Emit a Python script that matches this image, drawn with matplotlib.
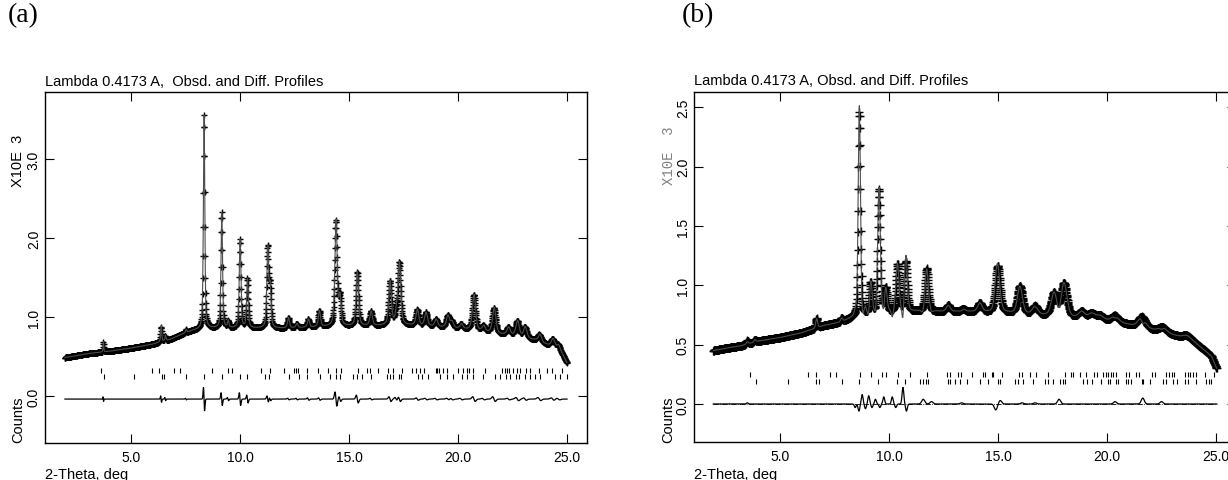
import numpy as np
import matplotlib
matplotlib.use("Agg")
import matplotlib.pyplot as plt
from matplotlib.ticker import FormatStrFormatter

plt.rcParams['font.family'] = ['Liberation Sans', 'DejaVu Sans']

TITLE = "Lambda 0.4173 A,  Obsd. and Diff. Profiles"
TITLE_B = "Lambda 0.4173 A, Obsd. and Diff. Profiles"

# ---- panel (a) -------------------------------------------------------
a_range = (1.97, 25.0)
a_bg_x = [1.97, 3.0, 4.0, 5.0, 6.0, 6.8, 7.3, 7.8, 8.5, 10.0, 12.0, 14.0,
          16.0, 17.5, 19.0, 20.5, 21.5, 22.5, 23.5, 24.0, 24.5, 24.8, 25.0]
a_bg_y = [0.49, 0.54, 0.57, 0.61, 0.66, 0.72, 0.78, 0.83, 0.86, 0.86, 0.86,
          0.88, 0.89, 0.90, 0.88, 0.84, 0.80, 0.76, 0.71, 0.66, 0.59, 0.52,
          0.42]
a_peak_pos = [3.73, 6.38, 6.57, 7.52, 8.35, 9.16, 9.45, 10.0, 10.34, 11.27,
              11.38, 12.22, 12.6, 13.13, 13.64, 14.40, 14.58, 15.38, 16.01,
              16.88, 17.16, 17.31, 18.13, 18.53, 18.99, 19.53, 19.71, 20.14,
              20.73, 21.16, 21.65, 22.31, 22.72, 23.07, 23.73, 24.34, 24.60]
a_peak_amp = [0.12, 0.19, 0.06, 0.04, 2.70, 1.46, 0.08, 1.12, 0.62, 1.00,
              0.50, 0.13, 0.05, 0.10, 0.20, 1.33, 0.36, 0.68, 0.18, 0.55,
              0.12, 0.78, 0.20, 0.17, 0.09, 0.15, 0.08, 0.06, 0.45, 0.07,
              0.32, 0.10, 0.20, 0.14, 0.09, 0.11, 0.08]
a_diff_amp = [0.03, 0.04, 0.02, 0.01, 0.15, 0.08, 0.02, 0.08, 0.05, 0.04,
              0.02, 0.01, 0.01, 0.015, 0.015, 0.09, 0.03, 0.05, 0.01, 0.03,
              0.02, 0.03, 0.015, 0.01, 0.01, 0.01, 0.01, 0.01, 0.03, 0.01,
              0.03, 0.01, 0.02, 0.015, 0.02, 0.015, 0.01]
a_refl_1 = [3.62, 5.98, 6.28, 6.97, 7.25, 8.70, 9.43, 9.65, 10.96, 11.38,
            12.03, 12.49, 12.57, 12.64, 13.09, 13.59, 14.05, 14.40, 14.62,
            15.43, 15.81, 15.96, 16.35, 16.80, 17.03, 17.42, 17.87, 18.07,
            18.26, 18.44, 18.99, 19.05, 19.14, 19.30, 19.51, 20.02, 20.24,
            20.40, 20.52, 20.67, 21.24, 22.00, 22.16, 22.23, 22.35, 22.54,
            22.69, 22.84, 23.12, 23.30, 23.73, 24.07, 24.30, 24.75]
a_refl_2 = [3.76, 5.15, 6.42, 6.53, 7.52, 8.35, 9.16, 10.00, 10.31, 11.15,
            11.35, 12.26, 12.72, 13.09, 13.67, 14.13, 14.40, 14.59, 15.17,
            15.35, 15.58, 15.99, 16.73, 16.88, 17.03, 17.29, 17.39, 18.18,
            18.33, 18.64, 19.17, 19.51, 19.79, 20.17, 20.40, 20.70, 21.16,
            21.70, 21.93, 22.20, 22.39, 22.66, 22.81, 23.07, 23.30, 23.53,
            23.76, 24.45, 24.68, 24.99]
a_diff_zero = -0.035

# ---- panel (b) -------------------------------------------------------
b_range = (1.94, 25.03)
b_bg_x = [1.94, 2.5, 3.2, 4.0, 5.0, 6.0, 6.5, 7.0, 7.8, 8.4, 9.0, 10.0,
          11.0, 12.0, 13.0, 14.0, 15.5, 17.0, 18.5, 19.5, 20.5, 21.5, 22.5,
          23.5, 24.0, 24.5, 24.8, 25.03]
b_bg_y = [0.45, 0.47, 0.49, 0.53, 0.56, 0.60, 0.63, 0.66, 0.69, 0.73, 0.75,
          0.77, 0.78, 0.78, 0.78, 0.78, 0.77, 0.75, 0.73, 0.72, 0.69, 0.65,
          0.61, 0.56, 0.52, 0.45, 0.40, 0.30]
b_peak_pos = [3.50, 3.85, 6.68, 7.83, 8.64, 9.16, 9.54, 9.85, 10.39, 10.77,
              11.73, 12.72, 13.40, 14.17, 14.99, 16.01, 16.70, 17.57, 18.03,
              18.84, 19.30, 19.68, 20.37, 21.60, 22.55, 23.69]
b_peak_amp = [0.03, 0.02, 0.08, 0.03, 1.72, 0.26, 1.04, 0.20, 0.40, 0.42,
              0.36, 0.05, 0.02, 0.07, 0.39, 0.23, 0.07, 0.19, 0.28, 0.05,
              0.04, 0.03, 0.05, 0.09, 0.04, 0.03]
b_diff_pos = [3.50, 8.45, 8.62, 8.77, 8.92, 9.07, 9.22, 9.38, 9.58, 9.76,
              10.15, 10.31, 10.64, 10.80, 11.57, 11.95, 13.33, 14.90, 15.10,
              16.10, 16.70, 17.80, 20.37, 21.64, 22.50]
b_diff_amp = [0.01, -0.03, -0.06, 0.08, -0.04, 0.07, -0.03, 0.04, -0.03,
              0.06, 0.06, -0.03, 0.14, -0.06, 0.04, 0.02, 0.01, -0.05, 0.03,
              0.01, 0.01, 0.04, 0.02, 0.05, 0.02]
b_refl_1 = [3.62, 6.30, 6.65, 7.29, 7.57, 8.67, 9.16, 9.70, 9.85, 10.43,
            10.96, 11.73, 12.65, 12.80, 13.18, 13.30, 13.79, 14.30, 14.40,
            14.71, 14.79, 15.17, 15.96, 16.09, 16.47, 16.74, 17.28, 18.07,
            18.34, 18.43, 18.76, 19.04, 19.40, 19.56, 19.83, 19.95, 20.06,
            20.17, 20.29, 20.40, 20.87, 21.03, 21.33, 21.48, 22.05, 22.20,
            22.71, 22.86, 22.97, 23.09, 23.58, 23.70, 23.81, 23.96, 24.08,
            24.50, 24.91]
b_refl_2 = [3.90, 5.38, 6.65, 6.77, 7.83, 8.64, 9.51, 10.35, 10.73, 11.42,
            11.55, 11.70, 11.80, 12.72, 12.80, 13.03, 13.26, 13.56, 14.17,
            14.56, 14.99, 15.09, 15.78, 15.93, 16.16, 16.62, 17.16, 17.31,
            17.54, 17.84, 17.99, 18.07, 18.88, 19.10, 19.30, 19.71, 20.06,
            20.13, 20.42, 20.52, 20.87, 20.97, 21.12, 21.60, 21.67, 21.97,
            22.55, 22.71, 23.04, 23.19, 23.58, 23.73, 24.08, 24.54, 24.67,
            24.76]
b_diff_zero = 0.0

STEP = 0.01
W, H = 1228, 481


def pseudo_voigt(x, pos, amp, fwhm, eta):
    u = (x - pos) / fwhm
    g = np.exp(-4 * np.log(2) * u ** 2)
    l = 1.0 / (1.0 + 4 * u ** 2)
    return amp * (eta * l + (1 - eta) * g)


def build_a():
    x = np.arange(a_range[0], a_range[1] + 1e-9, STEP)
    obs = np.interp(x, a_bg_x, a_bg_y)
    diff = np.zeros_like(x)
    for p, a, d in zip(a_peak_pos, a_peak_amp, a_diff_amp):
        fw = 0.01 + 0.008 * p
        obs += pseudo_voigt(x, p, a, fw, 0.5)
        u = (x - p) / (fw / 3.0)
        diff += -d * u * np.exp(0.5 * (1 - u ** 2))
    return x, obs, obs - diff, diff


def build_b():
    x = np.arange(b_range[0], b_range[1] + 1e-9, STEP)
    obs = np.interp(x, b_bg_x, b_bg_y)
    for p, a in zip(b_peak_pos, b_peak_amp):
        fw = max(0.10, -0.05 + 0.02 * p)
        obs += pseudo_voigt(x, p, a, fw, 0.3)
    diff = np.zeros_like(x)
    for p, d in zip(b_diff_pos, b_diff_amp):
        s = 0.04 if p < 11 else 0.07
        diff += d * np.exp(-0.5 * ((x - p) / s) ** 2)
    return x, obs, obs - diff, diff


def style_axes(ax, yticks, ylim):
    ax.set_xlim(1.055, 25.917)
    ax.set_ylim(*ylim)
    ax.set_xticks([5, 10, 15, 20, 25])
    ax.set_yticks(yticks)
    ax.xaxis.set_major_formatter(FormatStrFormatter('%.1f'))
    ax.yaxis.set_major_formatter(FormatStrFormatter('%.1f'))
    ax.tick_params(direction='in', top=True, right=True, length=6.5,
                   width=0.8, labelsize=10, colors='k')
    ax.tick_params(axis='x', pad=5)
    ax.tick_params(axis='y', pad=3, labelrotation=90)
    for lab in ax.get_yticklabels():
        lab.set_verticalalignment('center')
    for sp in ax.spines.values():
        sp.set_linewidth(1.0)


def draw_panel(ax, data, refl_1, refl_2, r1, r2, diff_zero, ms):
    x, obs, calc, diff = data
    ax.plot(x, obs, ls='none', marker='+', ms=ms, mew=1.0, color='k')
    ax.plot(x, calc, color='0.3', lw=0.8)
    ax.vlines(refl_1, r1[0], r1[1], color='k', lw=0.8)
    ax.vlines(refl_2, r2[0], r2[1], color='k', lw=0.8)
    ax.plot(x, diff_zero + diff, color='k', lw=0.9)


fig = plt.figure(figsize=(W / 100, H / 100), dpi=100)

# panel (a)
ax_a = fig.add_axes([45 / W, 1 - 444 / H, 542 / W, 351 / H])
draw_panel(ax_a, build_a(), a_refl_1, a_refl_2, (0.29, 0.36), (0.22, 0.28),
           a_diff_zero, 5.0)
style_axes(ax_a, [0, 1, 2, 3], (-0.591, 3.852))
ax_a.text(0, 1.012, TITLE, transform=ax_a.transAxes, ha='left', va='bottom',
          fontsize=10.5)
fig.text(8 / W, 1 - 16 / H, '(a)', family='Liberation Serif', fontsize=20,
         va='center', ha='left')
fig.text(18 / W, 1 - 161 / H, 'X10E  3', rotation=90, fontsize=10.5,
         ha='center', va='center')
fig.text(18 / W, 1 - 420 / H, 'Counts', rotation=90, fontsize=10.5,
         ha='center', va='center')
fig.text(45 / W, 1 - 475 / H, '2-Theta, deg', fontsize=10.5, ha='left',
         va='center')

# panel (b) -- its right edge runs past the figure border
ax_b = fig.add_axes([694 / W, 1 - 443.3 / H, 542 / W, 350.6 / H])
ax_b.hlines(b_diff_zero, b_range[0], b_range[1], color='k', lw=0.6,
            ls='-.')
draw_panel(ax_b, build_b(), b_refl_1, b_refl_2, (0.23, 0.27), (0.17, 0.21),
           b_diff_zero, 6.0)
style_axes(ax_b, [0, 0.5, 1.0, 1.5, 2.0, 2.5], (-0.323, 2.633))
ax_b.text(0, 1.012, TITLE_B, transform=ax_b.transAxes, ha='left',
          va='bottom', fontsize=10.5)
fig.text(682 / W, 1 - 16 / H, '(b)', family='Liberation Serif', fontsize=20,
         va='center', ha='left')
fig.text(669 / W, 1 - 156 / H, 'X10E  3', rotation=90, fontsize=10,
         family='Liberation Mono', color='0.5', ha='center', va='center')
fig.text(668 / W, 1 - 420 / H, 'Counts', rotation=90, fontsize=10.5,
         ha='center', va='center')
fig.text(694 / W, 1 - 475 / H, '2-Theta, deg', fontsize=10.5, ha='left',
         va='center')

fig.savefig('out.png', dpi=100)
